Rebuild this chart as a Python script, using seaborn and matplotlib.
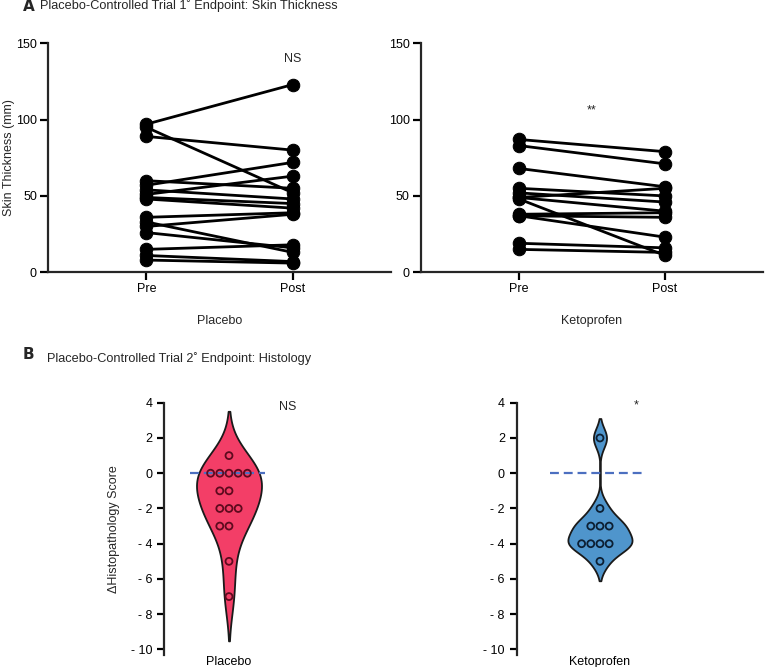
import matplotlib
matplotlib.use("Agg")
import matplotlib.pyplot as plt
import pandas as pd
import seaborn as sns

# Panel A: skin thickness (mm), paired pre/post per subject
timepoints = ["Pre", "Post"]
placebo_pre = [97, 95, 89, 60, 57, 54, 51, 49, 48, 36, 33, 30, 26, 15, 11, 8]
placebo_post = [123, 52, 80, 55, 72, 48, 63, 45, 42, 39, 13, 38, 16, 18, 7, 6]
keto_pre = [87, 83, 68, 55, 52, 49, 48, 49, 38, 37, 37, 19, 15]
keto_post = [79, 71, 56, 50, 46, 55, 11, 40, 39, 36, 23, 16, 13]

# Panel B: change in histopathology score
placebo_delta = [1, 0, 0, 0, 0, 0, -1, -1, -2, -2, -2, -3, -3, -5, -7]
keto_delta = [2, -2, -3, -3, -3, -4, -4, -4, -4, -5]

groups = ["Placebo", "Ketoprofen"]
violin_colors = ["#f33e67", "#4f95cc"]
dot_edges = ["#5e0a1e", "#0c1f33"]
sig_a = ["NS", "**"]
sig_b = ["NS", "*"]

sns.set_style("ticks")
plt.rcParams["font.family"] = ["Liberation Sans", "DejaVu Sans"]
plt.rcParams["axes.linewidth"] = 1.6


def paired_frame(pre, post):
    n = len(pre)
    return pd.DataFrame({
        "subject": list(range(n)) * 2,
        "time": [0] * n + [1] * n,
        "thickness": pre + post,
    })


fig = plt.figure(figsize=(7.66, 6.67), dpi=100)
ax_a1 = fig.add_axes([0.0627, 0.5918, 0.448, 0.3433])
ax_a2 = fig.add_axes([0.5496, 0.5918, 0.4465, 0.3433])
ax_b1 = fig.add_axes([0.2141, 0.0184, 0.1697, 0.3778])
ax_b2 = fig.add_axes([0.6745, 0.0184, 0.2175, 0.3778])

# ---- panel A ----
for ax, pre, post, name, sig in [
    (ax_a1, placebo_pre, placebo_post, groups[0], sig_a[0]),
    (ax_a2, keto_pre, keto_post, groups[1], sig_a[1]),
]:
    df = paired_frame(pre, post)
    sns.lineplot(data=df, x="time", y="thickness", units="subject", estimator=None,
                 color="black", linewidth=2, marker="o", markersize=9,
                 markeredgecolor="black", legend=False, ax=ax)
    ax.set_ylim(0, 150)
    ax.set_xlim(-0.67, 1.67)
    ax.set_yticks([0, 50, 100, 150])
    ax.set_xticks(range(len(timepoints)))
    ax.set_xticklabels(timepoints)
    ax.tick_params(length=6, width=1.6, pad=2, labelsize=9, colors="black")
    ax.set_xlabel(name, fontsize=9, labelpad=14)
    ax.set_ylabel("")
    sns.despine(ax=ax)

ax_a1.set_ylabel("Skin Thickness (mm)", fontsize=9)
ax_a1.yaxis.set_label_coords(-0.095, 0.5)
ax_a1.text(1, 140, sig_a[0], ha="center", va="center", fontsize=9)
ax_a2.text(0.5, 106, sig_a[1], ha="center", va="center", fontsize=9)

# ---- panel B ----
for ax, vals, name, col, edge, width in [
    (ax_b1, placebo_delta, groups[0], violin_colors[0], dot_edges[0], 1.0),
    (ax_b2, keto_delta, groups[1], violin_colors[1], dot_edges[1], 0.77),
]:
    df = pd.DataFrame({"group": name, "delta": vals})
    bw = 1.0 if ax is ax_b1 else 0.45
    sns.violinplot(data=df, x="group", y="delta", ax=ax, color=col, inner=None,
                   width=width, linewidth=1.3, linecolor="#1a1a1a", cut=2,
                   bw_adjust=bw, saturation=1)
    ax.hlines(0, -0.6, 0.55, colors="#4c6fc0", linestyles=(0, (4, 2.2)),
              linewidth=1.6, zorder=3)
    sns.swarmplot(data=df, x="group", y="delta", ax=ax, size=5, color=col,
                  linewidth=1.3, zorder=4)
    pts = ax.collections[-1]
    pts.set_facecolor("none")
    pts.set_edgecolor(edge)
    ax.set_xlim(-1, 1)
    ax.set_ylim(-10.3, 4)
    ax.set_yticks([-10, -8, -6, -4, -2, 0, 2, 4])
    ax.set_yticklabels(["- 10", "- 8", "- 6", "- 4", "- 2", "0", "2", "4"])
    ax.tick_params(axis="y", length=5, width=1.6, labelsize=9, colors="black")
    ax.tick_params(axis="x", length=0, pad=1, labelsize=9, colors="black")
    ax.set_xlabel("")
    ax.set_ylabel("")
    sns.despine(ax=ax, bottom=True)

ax_b1.set_ylabel("\u0394Histopathology Score", fontsize=9, labelpad=8)
ax_b1.text(0.9, 3.75, sig_b[0], ha="center", va="center", fontsize=9)
ax_b2.text(0.43, 3.85, sig_b[1], ha="center", va="center", fontsize=9)

# panel titles
fig.text(0.030, 0.991, "A", fontsize=11, weight="bold", va="center",
         family=["DejaVu Sans"])
fig.text(0.052, 0.991, "Placebo-Controlled Trial 1\u02da Endpoint: Skin Thickness",
         fontsize=9.2, va="center")
fig.text(0.030, 0.468, "B", fontsize=11, weight="bold", va="center",
         family=["DejaVu Sans"])
fig.text(0.061, 0.462, "Placebo-Controlled Trial 2\u02da Endpoint: Histology",
         fontsize=9.2, va="center")

fig.savefig("out.png", dpi=100)
plt.close(fig)
